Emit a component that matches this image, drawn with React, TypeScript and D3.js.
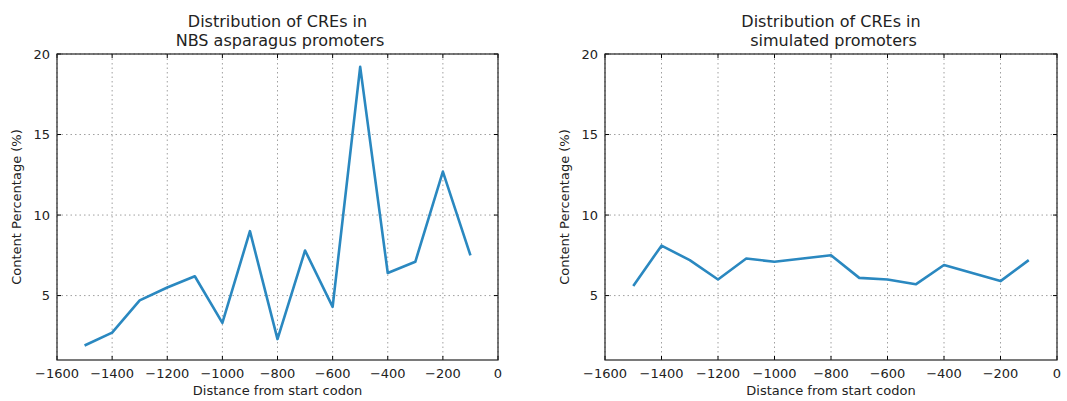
import React, {useRef, useEffect} from 'react';
import * as d3 from 'd3';

const distances = [-1500, -1400, -1300, -1200, -1100, -1000, -900, -800, -700, -600, -500, -400, -300, -200, -100];
const nbsValues = [1.9, 2.7, 4.7, 5.5, 6.2, 3.3, 9.0, 2.3, 7.8, 4.3, 19.2, 6.4, 7.1, 12.7, 7.5];
const simValues = [5.6, 8.1, 7.2, 6.0, 7.3, 7.1, 7.3, 7.5, 6.1, 6.0, 5.7, 6.9, 6.4, 5.9, 7.2];
const xTicks = [-1600, -1400, -1200, -1000, -800, -600, -400, -200, 0];
const yTicks = [5, 10, 15, 20];

const panels = [
    {title: ['Distribution of CREs in', '\u00a0NBS asparagus promoters'], values: nbsValues, left: 57, right: 498},
    {title: ['Distribution of CREs in', '\u00a0simulated promoters'], values: simValues, left: 605, right: 1057},
];

const FONT = '"DejaVu Sans", sans-serif';

const App = () => {
    const svgRef = useRef<SVGSVGElement>(null);

    useEffect(() => {
        const svg = d3.select(svgRef.current);
        svg.selectAll('*').remove();

        const top = 54;
        const bottom = 360;

        panels.forEach(p => {
            const xScale = d3.scaleLinear().domain([-1600, 0]).range([p.left, p.right]);
            const yScale = d3.scaleLinear().domain([1, 20]).range([bottom, top]);
            const g = svg.append('g');

            // grid
            g.selectAll('.vgrid').data(xTicks).enter().append('line')
                .attr('x1', d => xScale(d)).attr('x2', d => xScale(d))
                .attr('y1', top).attr('y2', bottom)
                .attr('stroke', '#a0a0a0').attr('stroke-width', 1)
                .attr('stroke-dasharray', '1.5,3');
            g.selectAll('.hgrid').data(yTicks).enter().append('line')
                .attr('y1', d => yScale(d)).attr('y2', d => yScale(d))
                .attr('x1', p.left).attr('x2', p.right)
                .attr('stroke', '#a0a0a0').attr('stroke-width', 1)
                .attr('stroke-dasharray', '1.5,3');

            // line
            const line = d3.line<number>()
                .x((_, i) => xScale(distances[i]))
                .y(d => yScale(d));
            g.append('path')
                .datum(p.values)
                .attr('fill', 'none')
                .attr('stroke', '#2a88c0')
                .attr('stroke-width', 2.6)
                .attr('stroke-linejoin', 'round')
                .attr('d', line);

            // inward ticks on all sides
            xTicks.forEach(t => {
                g.append('line').attr('x1', xScale(t)).attr('x2', xScale(t))
                    .attr('y1', bottom).attr('y2', bottom - 4).attr('stroke', '#000');
                g.append('line').attr('x1', xScale(t)).attr('x2', xScale(t))
                    .attr('y1', top).attr('y2', top + 4).attr('stroke', '#000');
            });
            yTicks.forEach(t => {
                g.append('line').attr('y1', yScale(t)).attr('y2', yScale(t))
                    .attr('x1', p.left).attr('x2', p.left + 4).attr('stroke', '#000');
                g.append('line').attr('y1', yScale(t)).attr('y2', yScale(t))
                    .attr('x1', p.right).attr('x2', p.right - 4).attr('stroke', '#000');
            });

            // frame
            g.append('rect')
                .attr('x', p.left).attr('y', top)
                .attr('width', p.right - p.left).attr('height', bottom - top)
                .attr('fill', 'none').attr('stroke', '#222').attr('stroke-width', 1.2);

            // tick labels
            g.selectAll('.xl').data(xTicks).enter().append('text')
                .attr('x', d => xScale(d)).attr('y', bottom + 18)
                .attr('text-anchor', 'middle')
                .attr('font-family', FONT).attr('font-size', 13).attr('fill', '#222')
                .text(d => d < 0 ? '\u2212' + Math.abs(d) : String(d));
            g.selectAll('.yl').data(yTicks).enter().append('text')
                .attr('x', p.left - 7).attr('y', d => yScale(d) + 4.5)
                .attr('text-anchor', 'end')
                .attr('font-family', FONT).attr('font-size', 13).attr('fill', '#222')
                .text(d => String(d));

            // axis labels
            const cx = (p.left + p.right) / 2;
            g.append('text')
                .attr('x', cx).attr('y', 395)
                .attr('text-anchor', 'middle')
                .attr('font-family', FONT).attr('font-size', 13).attr('fill', '#222')
                .text('Distance from start codon');
            g.append('text')
                .attr('transform', `translate(${p.left - 36}, ${(top + bottom) / 2}) rotate(-90)`)
                .attr('text-anchor', 'middle')
                .attr('font-family', FONT).attr('font-size', 13).attr('fill', '#222')
                .text('Content Percentage (%)');

            // title
            p.title.forEach((s, i) => {
                g.append('text')
                    .attr('x', cx).attr('y', 27 + i * 19)
                    .attr('text-anchor', 'middle')
                    .attr('font-family', FONT).attr('font-size', 16).attr('fill', '#222')
                    .text(s);
            });
        });
    }, []);

    return (
        <svg ref={svgRef} width={1067} height={401}
             style={{position: 'absolute', left: 0, top: 0, background: '#fff'}}/>
    );
};

export default App;
